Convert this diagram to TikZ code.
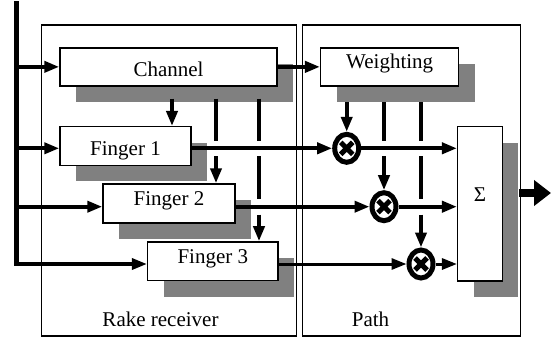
\documentclass[tikz,border=0pt]{standalone}
\usepackage{fontspec}
\setmainfont{Liberation Serif}
\usetikzlibrary{arrows.meta,shapes.geometric,calc,shadows}
\tikzset{
  txt/.style={font=\fontsize{21}{25}\selectfont},
  blk/.style={txt, draw, line width=1.5pt, fill=white, rectangle, inner sep=0pt,
    drop shadow={shadow xshift=16pt, shadow yshift=-16pt, fill=gray, opacity=1}},
  frame/.style={draw, line width=1.5pt, rectangle, inner sep=0pt},
  lbl/.style={txt, anchor=base, inner sep=0pt},
  mult/.style={ellipse, draw, line width=5pt, fill=white, minimum width=24pt,
    minimum height=28pt, inner sep=0pt,
    path picture={\draw[line width=5pt]
      ($(path picture bounding box.center)+(-6,-6)$) -- ($(path picture bounding box.center)+(6,6)$)
      ($(path picture bounding box.center)+(-6,6)$) -- ($(path picture bounding box.center)+(6,-6)$);}},
  sig/.style={line width=4pt, -{Triangle[length=15pt,width=11pt]}},
  thinsig/.style={sig, line width=3pt},
  busline/.style={line width=5.3pt},
  outarrow/.style={line width=7.5pt, -{Triangle[length=17pt,width=25pt]}}
}
\begin{document}
\begin{tikzpicture}[x=1pt,y=-1pt]
\useasboundingbox (0,0) rectangle (552,343);
% containers
\node[frame, minimum width=255.4pt, minimum height=311pt] (rake) at (169,180.5) {};
\node[frame, minimum width=218.4pt, minimum height=311pt] (pathbox) at (411.5,180.5) {};
\node[lbl] (rakelbl) at (160.5,326.7) {Rake receiver};
\node[lbl] (pathlbl) at (370.5,326.7) {Path};
% blocks
\node[blk, minimum width=217pt, minimum height=38pt, text height=18.5pt, text depth=0pt] (channel) at (168.5,66.85) {Channel};
\node[blk, minimum width=138pt, minimum height=38pt, text height=14pt, text depth=11pt] (weighting) at (389.7,66.85) {Weighting};
\node[blk, minimum width=131pt, minimum height=38.6pt, text height=18.6pt, text depth=0pt] (f1) at (125.5,146) {Finger 1};
\node[blk, minimum width=132pt, minimum height=39pt, text height=14pt, text depth=11pt] (f2) at (169,203.5) {Finger 2};
\node[blk, minimum width=130.3pt, minimum height=38.7pt, text height=14pt, text depth=10pt] (f3) at (212.8,261.3) {Finger 3};
\node[blk, minimum width=44.6pt, minimum height=154.3pt, text height=14pt, text depth=18pt] (sigma) at (480,203.8) {Σ};
% multipliers
\node[mult] (m1) at (346.7,148.3) {};
\node[mult] (m2) at (384,206.7) {};
\node[mult] (m3) at (421,264) {};
% bus
\coordinate (bustop) at (16.7,1);
\coordinate (busbot) at (16.7,266);
\draw[busline] (bustop) -- (busbot);
\draw[sig] (bustop |- channel.west) -- (channel.west);
\draw[sig] (bustop |- m1) -- (f1.west |- m1);
\draw[sig] (bustop |- m2) -- (f2.west |- m2);
\draw[sig, line width=3.3pt] (bustop |- m3) -- (f3.west |- m3);
% channel to weighting
\draw[sig] (channel.east) -- (weighting.west);
% channel estimates to fingers
\coordinate (c1) at (172,0);
\coordinate (c2) at (216,0);
\coordinate (c3) at (259,0);
\draw[sig] ($(channel.south -| c1)+(0,12)$) -- (f1.north -| c1);
\draw[sig] ($(channel.south -| c2)+(0,12)$) -- ($(m1 -| c2)+(0,-7)$)
  ($(m1 -| c2)+(0,8)$) -- (f2.north -| c2);
\draw[sig] ($(channel.south -| c3)+(0,12)$) -- ($(m1 -| c3)+(0,-7)$)
  ($(m1 -| c3)+(0,8)$) -- ($(m2 -| c3)+(0,-8)$)
  ($(m2 -| c3)+(0,8)$) -- (f3.north -| c3);
% weights to multipliers
\draw[sig] ($(weighting.south -| m1)+(0,15.5)$) -- (m1.north);
\draw[sig] ($(weighting.south -| m2)+(0,15.5)$) -- ($(m1 -| m2)+(0,-7)$)
  ($(m1 -| m2)+(0,8)$) -- (m2.north);
\draw[sig] ($(weighting.south -| m3)+(0,15.5)$) -- ($(m1 -| m3)+(0,-7)$)
  ($(m1 -| m3)+(0,8)$) -- ($(m2 -| m3)+(0,-8)$)
  ($(m2 -| m3)+(0,8)$) -- (m3.north);
% finger outputs
\draw[sig] (f1.east |- m1) -- (m1.west);
\draw[sig] (f2.east |- m2) -- (m2.west);
\draw[thinsig] (f3.east |- m3) -- (m3.west);
\draw[sig] (m1.east) -- (sigma.west |- m1);
\draw[sig] (m2.east) -- (sigma.west |- m2);
\draw[thinsig] (m3.east) -- (sigma.west |- m3);
% output
\coordinate (outend) at (551,193);
\draw[outarrow] ($(sigma.east |- outend)+(16,0)$) -- (outend);
\end{tikzpicture}
\end{document}
